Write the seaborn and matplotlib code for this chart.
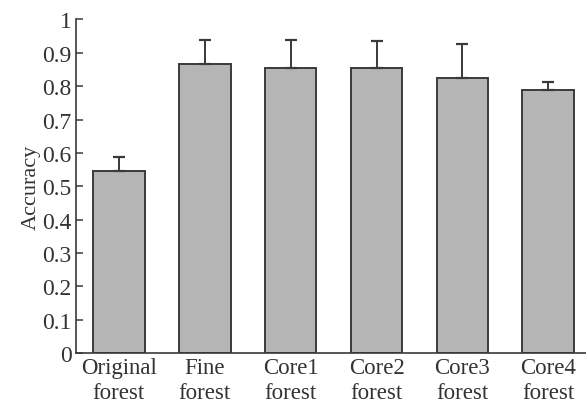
import matplotlib
matplotlib.use("Agg")
import matplotlib.pyplot as plt
import numpy as np
import pandas as pd
import seaborn as sns

categories = ["Original\nforest", "Fine\nforest", "Core1\nforest",
              "Core2\nforest", "Core3\nforest", "Core4\nforest"]
accuracy = [0.545, 0.868, 0.854, 0.855, 0.824, 0.789]
upper_err = [0.044, 0.072, 0.086, 0.081, 0.102, 0.025]

y_ticks = [0, 0.1, 0.2, 0.3, 0.4, 0.5, 0.6, 0.7, 0.8, 0.9, 1]
y_tick_labels = ["0", "0.1", "0.2", "0.3", "0.4", "0.5", "0.6",
                 "0.7", "0.8", "0.9", "1"]

sns.set_style("white")
plt.rcParams["font.family"] = ["Liberation Serif", "DejaVu Serif"]

df = pd.DataFrame({"model": categories, "accuracy": accuracy})

fig = plt.figure(figsize=(5.86, 4.14), dpi=100)
ax = fig.add_axes([0.1297, 0.145, 0.8703, 0.8055])

sns.barplot(
    data=df,
    x="model",
    y="accuracy",
    color="#b5b5b5",
    saturation=1,
    width=0.6,
    edgecolor="#3a3a3a",
    linewidth=1.4,
    ax=ax,
)

ax.errorbar(
    np.arange(len(categories)),
    accuracy,
    yerr=[np.zeros(len(upper_err)), upper_err],
    fmt="none",
    ecolor="#3a3a3a",
    elinewidth=1.4,
    capsize=4,
    capthick=1.6,
    zorder=1,
)

ax.set_ylim(0, 1)
ax.set_xlim(-0.5, 5.44)
ax.set_yticks(y_ticks)
ax.set_yticklabels(y_tick_labels)
ax.set_xlabel("")
ax.set_ylabel("Accuracy", fontsize=16, labelpad=1, color="#333333")

for side in ["top", "right"]:
    ax.spines[side].set_visible(False)
for side in ["left", "bottom"]:
    ax.spines[side].set_color("#3a3a3a")
    ax.spines[side].set_linewidth(1.2)

ax.tick_params(axis="y", direction="in", length=5, width=1.1,
               color="#3a3a3a", labelsize=17, labelcolor="#333333", pad=3,
               left=True)
ax.tick_params(axis="x", length=0, labelsize=16.5, labelcolor="#333333", pad=3)
for label in ax.get_xticklabels():
    label.set_linespacing(1.25)

fig.savefig("out.png", dpi=100)
